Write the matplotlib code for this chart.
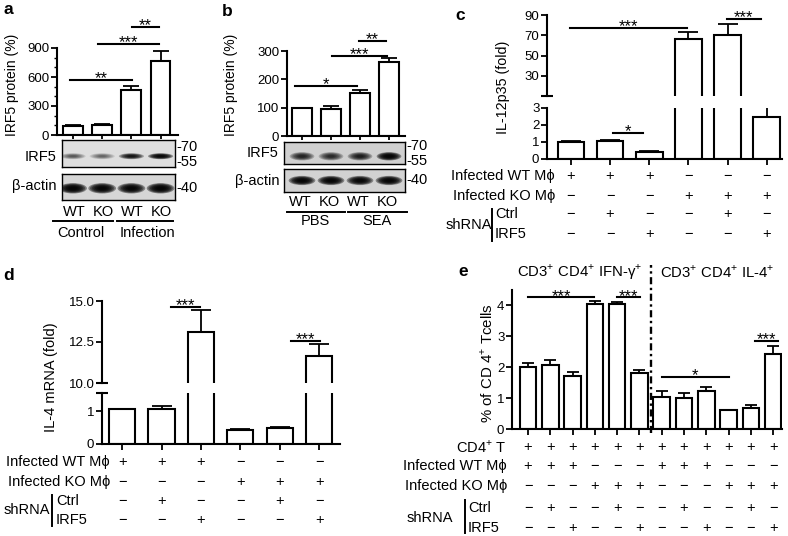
import numpy as np
import matplotlib
matplotlib.use("Agg")
import matplotlib.pyplot as plt
from matplotlib.patches import Ellipse
from matplotlib.lines import Line2D
from matplotlib.transforms import blended_transform_factory as blend

plt.rcParams['font.family'] = ['Liberation Sans', 'DejaVu Sans']
plt.rcParams['mathtext.fontset'] = 'custom'
plt.rcParams['mathtext.rm'] = 'Liberation Sans'

# ---- data ----
# panel a
a_vals = [95, 105, 462, 770]
a_errs = [105, 112, 505, 868]
a_sig = [(-0.1, 2.02, 569, '**'), (0.86, 2.95, 941, '***'), (2.02, 2.95, 1117, '**')]
a_irf5_band = [0.3, 0.25, 0.7, 0.9]
a_actin_band = [1.0, 0.95, 0.95, 1.0]
a_lanes = ['WT', 'KO', 'WT', 'KO']
a_groups = ['Control', 'Infection']

# panel b
b_vals = [100, 95, 153, 260]
b_errs = [100, 105, 163, 275]
b_sig = [(-0.24, 1.9, 176, '*'), (1.03, 2.93, 282, '***'), (1.97, 2.9, 335, '**')]
b_irf5_band = [0.55, 0.5, 0.6, 0.95]
b_actin_band = [0.95, 0.95, 0.9, 0.95]
b_groups = ['PBS', 'SEA']

# panel c
c_vals = [1.02, 1.05, 0.41, 66, 70, 2.47]
c_errs = [1.04, 1.12, 0.47, 73, 81, 3.05]
c_sig_up = [(-0.03, 2.96, 77, '***'), (3.98, 4.85, 86, '***')]
c_sig_lo = [(1.07, 1.84, 1.53, '*')]

# panel d
d_vals = [1.05, 1.05, 13.13, 0.42, 0.48, 11.65]
d_errs = [1.06, 1.16, 14.45, 0.47, 0.52, 12.36]
d_sig_up = [(1.24, 1.98, 14.63, '***'), (4.29, 5.03, 12.56, '***')]

# panel e
e_vals = [2.02, 2.08, 1.7, 4.05, 4.05, 1.8, 1.05, 1.0, 1.22, 0.62, 0.67, 2.42]
e_errs = [2.15, 2.22, 1.85, 4.13, 4.12, 1.9, 1.22, 1.18, 1.36, 0.62, 0.78, 2.68]
e_sig = [(0, 2.96, 4.26, '***'), (3.99, 5.02, 4.26, '***'), (6.0, 9.0, 1.68, '*'), (10.2, 11.2, 2.84, '***')]

row_wt = "Infected WT M\u03d5"
row_ko = "Infected KO M\u03d5"
cd_wt = "+++---"
cd_ko = "---+++"
cd_ctrl = "-+--+-"
cd_irf5 = "--+--+"
e_cd4 = "++++++++++++"
e_wt = "+++---+++---"
e_ko = "---+++---+++"
e_ctrl = "-+--+--+--+-"
e_irf5 = "--+--+--+--+"

# ---- layout helpers ----
W, H = 788, 536
FS = 10.5
fig = plt.figure(figsize=(W / 100, H / 100), dpi=100)


def box(x0, y0, x1, y1):
    return fig.add_axes([x0 / W, 1 - y1 / H, (x1 - x0) / W, (y1 - y0) / H])


def ftext(x, y, s, **kw):
    kw.setdefault('fontsize', FS)
    fig.text(x / W, 1 - y / H, s, **kw)


def fline(x0, y0, x1, y1, lw=1.4):
    fig.add_artist(Line2D([x0 / W, x1 / W], [1 - y0 / H, 1 - y1 / H], color='black', lw=lw))


def style(ax, bottom=True):
    for s in ['top', 'right']:
        ax.spines[s].set_visible(False)
    ax.spines['left'].set_linewidth(1.5)
    ax.spines['bottom'].set_linewidth(1.5)
    if not bottom:
        ax.spines['bottom'].set_visible(False)
    ax.tick_params(direction='out', length=4, width=1.3, labelsize=9.5, pad=1.5)
    ax.patch.set_alpha(0)


def bars(ax, vals, errs, width, capsize):
    x = np.arange(len(vals))
    ax.bar(x, vals, width=width, facecolor='white', edgecolor='black', linewidth=1.5, zorder=2)
    lo = np.zeros(len(vals))
    up = np.array(errs) - np.array(vals)
    ax.errorbar(x, vals, yerr=[lo, up], fmt='none', ecolor='black', elinewidth=1.3,
                capsize=capsize, capthick=1.3, zorder=1)
    ax.set_xticks(x)
    ax.set_xticklabels([])


def sig(ax, items, fs=12):
    for x0, x1, y, lab in items:
        ax.plot([x0, x1], [y, y], color='black', lw=1.5, clip_on=False)
        ax.annotate(lab, ((x0 + x1) / 2, y), xytext=(0, -4.5), textcoords='offset points',
                    ha='center', va='bottom', fontsize=fs, annotation_clip=False)


def blot(ax, bands, yc, h, w, bg):
    ax.set_facecolor(bg)
    ax.set_ylim(0, 1)
    for i, v in enumerate(bands):
        for k in range(7):
            s = 1 - k * 0.12
            ax.add_patch(Ellipse((i, yc), w * s, h * s, facecolor='black', edgecolor='none',
                                 alpha=v * 0.4))
    ax.set_xticks([])
    ax.set_yticks([])
    for s in ax.spines.values():
        s.set_linewidth(1.0)


def cap(ax, yval):
    ax.plot([0], [yval], marker='_', ms=9, mew=1.5, color='black',
            transform=blend(ax.transAxes, ax.transData), clip_on=False)


def table(ax, rows, ys):
    tr = blend(ax.transData, fig.transFigure)
    for pattern, y in zip(rows, ys):
        for i, ch in enumerate(pattern):
            sym = '+' if ch == '+' else '\u2212'
            ax.text(i, 1 - y / H, sym, transform=tr, ha='center', va='center', fontsize=FS)


# ---- panel a ----
ax = box(57, 48, 178, 135)
style(ax)
bars(ax, a_vals, a_errs, 0.68, 6)
ax.set_xlim(-0.55, 3.6)
ax.set_ylim(0, 900)
ax.set_yticks([0, 300, 600, 900])
ax.set_yticks(np.arange(0, 901, 100), minor=True)
ax.tick_params(which='minor', length=2, width=1)
ax.tick_params(axis='x', length=3)
sig(ax, a_sig)
ftext(12, 85, 'IRF5 protein (%)', rotation=90, ha='center', va='center', fontsize=10)
ftext(3, 10, 'a', fontsize=12.5, fontweight='bold', va='center')

bl = box(62, 140, 175, 167)
bl.set_xlim((62 - 73) / 29.2, (175 - 73) / 29.2)
blot(bl, a_irf5_band, 0.4, 0.22, 0.86, '#dedede')
bl2 = box(62, 174, 175, 200)
bl2.set_xlim((62 - 73) / 29.2, (175 - 73) / 29.2)
blot(bl2, a_actin_band, 0.45, 0.4, 0.95, '#d6d6d6')
ftext(56, 157, 'IRF5', ha='right', va='center')
ftext(57, 186, '\u03b2-actin', ha='right', va='center')
ftext(176, 147, '-70', va='center')
ftext(176, 162, '-55', va='center')
ftext(176, 188, '-40', va='center')
for i, lane in enumerate(a_lanes):
    ftext(73 + 29.2 * i + 1, 212, lane, ha='center', va='center')
fline(53, 221, 113, 221)
fline(117, 221, 173, 221)
ftext(81, 233, a_groups[0], ha='center', va='center')
ftext(147, 233, a_groups[1], ha='center', va='center')

# ---- panel b ----
ax = box(287, 51, 405, 136)
style(ax)
bars(ax, b_vals, b_errs, 0.69, 6)
ax.set_xlim(-0.52, 3.55)
ax.set_ylim(0, 300)
ax.set_yticks([0, 100, 200, 300])
ax.tick_params(axis='x', length=3)
sig(ax, b_sig)
ftext(231, 85, 'IRF5 protein (%)', rotation=90, ha='center', va='center', fontsize=10)
ftext(222, 12, 'b', fontsize=12.5, fontweight='bold', va='center')

bl = box(284, 142, 405, 164)
bl.set_xlim((284 - 302) / 29, (405 - 302) / 29)
blot(bl, b_irf5_band, 0.35, 0.38, 0.85, '#d0d0d0')
bl2 = box(284, 169, 405, 192)
bl2.set_xlim((284 - 302) / 29, (405 - 302) / 29)
blot(bl2, b_actin_band, 0.5, 0.4, 0.92, '#d2d2d2')
ftext(279, 153, 'IRF5', ha='right', va='center')
ftext(279, 181, '\u03b2-actin', ha='right', va='center')
ftext(406, 146, '-70', va='center')
ftext(406, 161, '-55', va='center')
ftext(406, 180, '-40', va='center')
for i, lane in enumerate(a_lanes):
    ftext(302 + 29 * i - 2, 202, lane, ha='center', va='center')
fline(287, 212, 345, 212)
fline(348, 212, 407, 212)
ftext(315, 221, b_groups[0], ha='center', va='center')
ftext(377, 221, b_groups[1], ha='center', va='center')

# ---- panel c ----
cx = (-0.61, 5.39)
up = box(547, 15, 782, 96)
style(up, bottom=False)
bars(up, c_vals, c_errs, 0.68, 7)
up.set_xlim(*cx)
up.set_ylim(10, 90)
up.set_yticks([30, 50, 70, 90])
up.tick_params(axis='x', length=0)
cap(up, 10)
sig(up, c_sig_up)
lo = box(547, 108, 782, 159)
style(lo)
bars(lo, c_vals, c_errs, 0.68, 7)
lo.set_xlim(*cx)
lo.set_ylim(0, 3)
lo.set_yticks([0, 1, 2, 3])
sig(lo, c_sig_lo)
ftext(503, 87, 'IL-12p35 (fold)', rotation=90, ha='center', va='center', fontsize=10.3)
ftext(455, 16, 'c', fontsize=12.5, fontweight='bold', va='center')
table(lo, [cd_wt, cd_ko, cd_ctrl, cd_irf5], [176, 196, 214, 234])
ftext(555, 176, row_wt, ha='right', va='center')
ftext(555, 196, row_ko, ha='right', va='center')
ftext(469, 225, 'shRNA', ha='center', va='center')
fline(492, 209, 492, 241)
ftext(495, 214, 'Ctrl', va='center')
ftext(495, 234, 'IRF5', va='center')

# ---- panel d ----
dx = (-0.51, 5.53)
up = box(102, 301, 340, 383)
style(up, bottom=False)
bars(up, d_vals, d_errs, 0.66, 7)
up.set_xlim(*dx)
up.set_ylim(10, 15)
up.set_yticks([10, 12.5, 15])
up.set_yticklabels(['10.0', '12.5', '15.0'])
up.tick_params(axis='x', length=0)
cap(up, 10)
sig(up, d_sig_up)
lo = box(102, 393, 340, 444)
style(lo)
bars(lo, d_vals, d_errs, 0.66, 7)
lo.set_xlim(*dx)
lo.set_ylim(0, 1.55)
lo.set_yticks([0, 1])
cap(lo, 1.55)
ftext(51, 377, 'IL-4 mRNA (fold)', rotation=90, ha='center', va='center')
ftext(3, 275, 'd', fontsize=12.5, fontweight='bold', va='center')
table(lo, [cd_wt, cd_ko, cd_ctrl, cd_irf5], [462, 482, 501, 520])
ftext(110, 462, row_wt, ha='right', va='center')
ftext(110, 482, row_ko, ha='right', va='center')
ftext(27, 510, 'shRNA', ha='center', va='center')
fline(52, 495, 52, 526)
ftext(56, 501, 'Ctrl', va='center')
ftext(56, 520, 'IRF5', va='center')

# ---- panel e ----
ax = box(512, 290, 782, 429)
style(ax)
bars(ax, e_vals, e_errs, 0.74, 4)
ax.set_xlim(-0.72, 11.4)
ax.set_ylim(0, 4.5)
ax.set_yticks([0, 1, 2, 3, 4])
ax.plot([5.5, 5.5], [-0.12, 5.3], color='black', lw=1.7, ls=(0, (3, 1.5, 1, 1.5)), clip_on=False)
sig(ax, e_sig)
ftext(487, 363, '% of CD 4$^{+}$ Tcells', rotation=90, ha='center', va='center', fontsize=10.8)
ftext(458, 272, 'e', fontsize=12.5, fontweight='bold', va='center')
ftext(580, 272, 'CD3$^{+}$ CD4$^{+}$ IFN-\u03b3$^{+}$', ha='center', va='center', fontsize=10.7)
ftext(717, 272, 'CD3$^{+}$ CD4$^{+}$ IL-4$^{+}$', ha='center', va='center', fontsize=10.7)
table(ax, [e_cd4, e_wt, e_ko, e_ctrl, e_irf5], [447, 466, 486, 508, 528])
ftext(507, 447, 'CD4$^{+}$ T', ha='right', va='center')
ftext(507, 466, row_wt, ha='right', va='center')
ftext(507, 486, row_ko, ha='right', va='center')
ftext(430, 518, 'shRNA', ha='center', va='center')
fline(465, 500, 465, 533)
ftext(468, 508, 'Ctrl', va='center')
ftext(468, 528, 'IRF5', va='center')

fig.savefig('out.png', dpi=100)
